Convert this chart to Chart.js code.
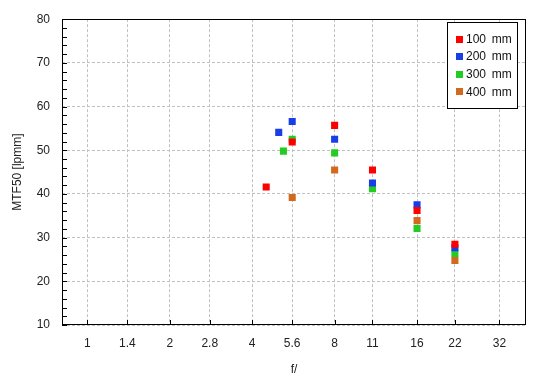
<!DOCTYPE html>
<html>
<head>
<meta charset="utf-8">
<title>MTF50 vs aperture</title>
<script src="https://cdn.jsdelivr.net/npm/chart.js@4.4.1/dist/chart.umd.min.js"></script>
<style>
  html, body { margin: 0; padding: 0; background: #fff; }
</style>
</head>
<body>
<canvas id="mtfChart" width="550" height="380"></canvas>
<script>
// --- data ---
const fStops = [1, 1.4, 2, 2.8, 4, 5.6, 8, 11, 16, 22, 32];
const fStopLabels = ['1', '1.4', '2', '2.8', '4', '5.6', '8', '11', '16', '22', '32'];

const seriesNames = ['100 mm', '200 mm', '300 mm', '400 mm'];
const seriesColors = ['#ff0000', '#1a3ee6', '#22cc22', '#d2691e'];

const aperture100 = [4.5, 5.6, 8, 11, 16, 22];
const mtf100 = [41.6, 51.9, 55.7, 45.5, 36.2, 28.5];

const aperture200 = [5, 5.6, 8, 11, 16, 22];
const mtf200 = [54.1, 56.6, 52.5, 42.5, 37.5, 27.7];

const aperture300 = [5.2, 5.6, 8, 11, 16, 22];
const mtf300 = [49.8, 52.5, 49.4, 41.2, 32.1, 26.4];

const aperture400 = [5.6, 8, 11, 16, 22];
const mtf400 = [39.2, 45.5, 41.4, 33.9, 24.8];

const apertures = [aperture100, aperture200, aperture300, aperture400];
const mtfValues = [mtf100, mtf200, mtf300, mtf400];

Chart.defaults.font.family = "'Liberation Sans', Arial, sans-serif";
Chart.defaults.font.size = 12;
Chart.defaults.color = '#222';

// frame round the plot plus the small inward ticks
const framePlugin = {
    id: 'frame',
    beforeDatasetsDraw(chart) {
        const { ctx, chartArea: a, scales } = chart;
        ctx.save();
        ctx.strokeStyle = '#000';
        ctx.lineWidth = 1;
        ctx.beginPath();
        for (let v = 10; v <= 80; v += 2) {
            const py = Math.round(scales.y.getPixelForValue(v)) + 0.5;
            ctx.moveTo(a.left, py);
            ctx.lineTo(a.left + 5, py);
        }
        fStops.forEach(f => {
            const px = Math.round(scales.x.getPixelForValue(f)) + 0.5;
            ctx.moveTo(px, a.bottom);
            ctx.lineTo(px, a.bottom - 5);
        });
        ctx.stroke();
        ctx.strokeRect(Math.round(a.left) + 0.5, Math.round(a.top) + 0.5,
            Math.round(a.right - a.left) - 1, Math.round(a.bottom - a.top) - 1);
        ctx.restore();
    }
};

// boxed legend inside the top right corner of the plot
const boxLegend = {
    id: 'boxLegend',
    afterDraw(chart) {
        const { ctx, chartArea: a } = chart;
        const w = 70, h = 86;
        const x0 = Math.round(a.right) - 9 - w, y0 = Math.round(a.top) + 3;
        ctx.save();
        ctx.fillStyle = '#fff';
        ctx.fillRect(x0, y0, w, h);
        ctx.strokeStyle = '#000';
        ctx.lineWidth = 1;
        ctx.strokeRect(x0 + 0.5, y0 + 0.5, w, h);
        ctx.font = "12px 'Liberation Sans', Arial, sans-serif";
        ctx.textBaseline = 'middle';
        chart.data.datasets.forEach((ds, i) => {
            const cy = y0 + 17 + i * 17.6;
            ctx.fillStyle = ds.backgroundColor;
            ctx.fillRect(x0 + 9, Math.round(cy - 3.5), 7, 7);
            ctx.fillStyle = '#111';
            ctx.fillText(ds.label.replace(' ', '\u2009 '), x0 + 19, cy + 0.5);
        });
        ctx.restore();
    }
};

const datasets = seriesNames.map((name, i) => ({
    label: name,
    data: apertures[i].map((f, j) => ({ x: f, y: mtfValues[i][j] })),
    backgroundColor: seriesColors[i],
    borderColor: seriesColors[i],
    borderWidth: 0,
    pointStyle: 'rect',
    pointRadius: 5,
    pointHoverRadius: 5
}));

new Chart(document.getElementById('mtfChart'), {
    type: 'scatter',
    data: { datasets: datasets },
    options: {
        responsive: false,
        animation: false,
        layout: { padding: { top: 16, right: 24, left: 0, bottom: 0 } },
        plugins: {
            legend: { display: false },
            tooltip: { enabled: false }
        },
        scales: {
            x: {
                type: 'logarithmic',
                min: 0.808,
                max: 40,
                afterBuildTicks: scale => {
                    scale.ticks = fStops.map(v => ({ value: v }));
                },
                afterFit: scale => { scale.height = 55; },
                ticks: {
                    autoSkip: false,
                    maxRotation: 0,
                    padding: 11,
                    callback: (value, index) => fStopLabels[index]
                },
                grid: { color: '#c0c0c0', drawTicks: false },
                border: { display: false, dash: [3, 2] },
                title: { display: true, text: 'f/', padding: { top: 0, bottom: 3 } }
            },
            y: {
                min: 10,
                max: 80,
                afterFit: scale => { scale.width = 62; },
                ticks: {
                    stepSize: 2,
                    autoSkip: false,
                    padding: 12,
                    callback: v => (Math.round(v) % 10 === 0 ? Math.round(v) : '')
                },
                grid: {
                    drawTicks: false,
                    color: c => (c.tick && Math.round(c.tick.value) % 10 === 0 ? '#c0c0c0' : 'rgba(0,0,0,0)')
                },
                border: { display: false, dash: [3, 2] },
                title: { display: true, text: 'MTF50 [lpmm]', padding: { top: 10, bottom: 0 } }
            }
        }
    },
    plugins: [framePlugin, boxLegend]
});
</script>
</body>
</html>
